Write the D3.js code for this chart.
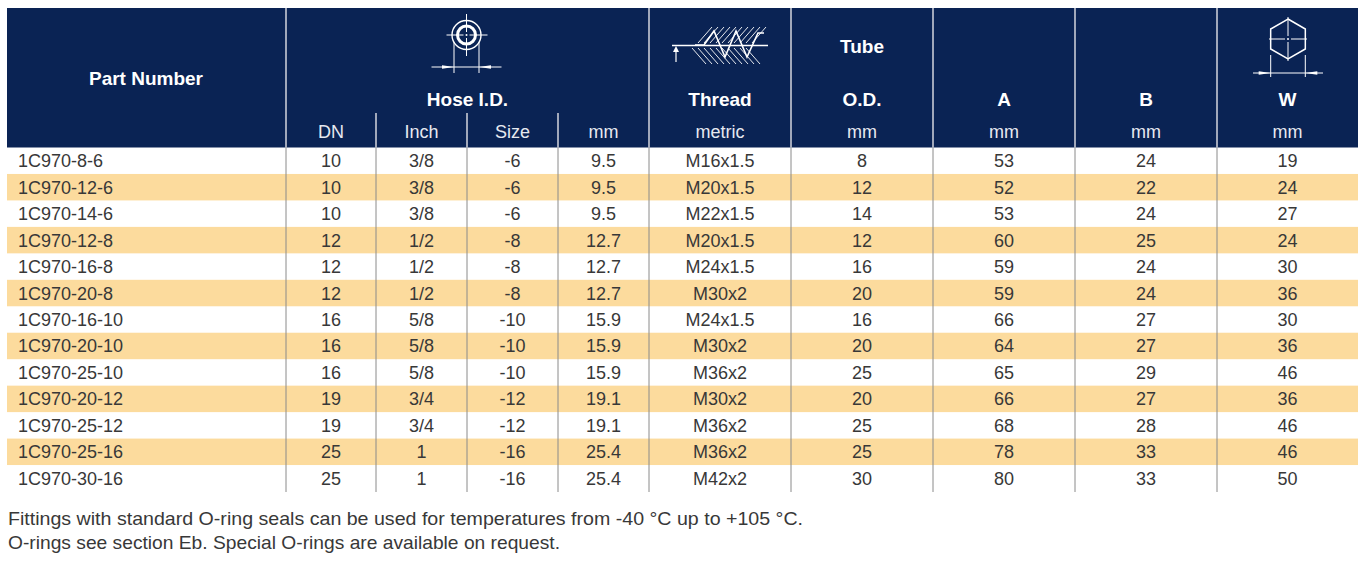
<!DOCTYPE html>
<html>
<head>
<meta charset="utf-8">
<script src="https://cdn.jsdelivr.net/npm/d3@7"></script>
<style>
  body { margin: 0; background: #ffffff; }
  svg { display: block; font-family: "Liberation Sans", Arial, sans-serif; }
</style>
</head>
<body>
<svg id="tabell" width="1369" height="563"></svg>
<script>
// Tabelldata
var partNumbers = ["1C970-8-6", "1C970-12-6", "1C970-14-6", "1C970-12-8", "1C970-16-8", "1C970-20-8",
    "1C970-16-10", "1C970-20-10", "1C970-25-10", "1C970-20-12", "1C970-25-12", "1C970-25-16", "1C970-30-16"];
var dn = [10, 10, 10, 12, 12, 12, 16, 16, 16, 19, 19, 25, 25];
var inch = ["3/8", "3/8", "3/8", "1/2", "1/2", "1/2", "5/8", "5/8", "5/8", "3/4", "3/4", "1", "1"];
var sizeDash = ["-6", "-6", "-6", "-8", "-8", "-8", "-10", "-10", "-10", "-12", "-12", "-16", "-16"];
var hoseMm = ["9.5", "9.5", "9.5", "12.7", "12.7", "12.7", "15.9", "15.9", "15.9", "19.1", "19.1", "25.4", "25.4"];
var thread = ["M16x1.5", "M20x1.5", "M22x1.5", "M20x1.5", "M24x1.5", "M30x2", "M24x1.5", "M30x2",
    "M36x2", "M30x2", "M36x2", "M36x2", "M42x2"];
var tubeOD = [8, 12, 14, 12, 16, 20, 16, 20, 25, 20, 25, 25, 30];
var dimA = [53, 52, 53, 60, 59, 59, 66, 64, 65, 66, 68, 78, 80];
var dimB = [24, 22, 24, 25, 24, 24, 27, 27, 29, 27, 28, 33, 33];
var dimW = [19, 24, 27, 24, 30, 36, 30, 36, 46, 36, 46, 46, 50];

var kolonner = ["part", "dn", "inch", "size", "mm", "thread", "tube", "a", "b", "w"];
var underTekst = ["", "DN", "Inch", "Size", "mm", "metric", "mm", "mm", "mm", "mm"];
var fotTekst = ["Fittings with standard O-ring seals can be used for temperatures from -40 °C up to +105 °C.",
    "O-rings see section Eb. Special O-rings are available on request."];

var navy = "#0a2354";
var gul = "#fcdb9d";

var svg = d3.select("#tabell");

// kolonnegrenser
var kantX = [7, 286, 376, 467, 558, 649, 791, 933, 1075, 1217, 1358];
var venstre = d3.scaleOrdinal().domain(kolonner).range(kantX.slice(0, 10));
var hoyre = d3.scaleOrdinal().domain(kolonner).range(kantX.slice(1));
function midt(k) { return (venstre(k) + hoyre(k)) / 2; }

var y = d3.scaleBand().domain(partNumbers).range([147.5, 491.5]);

// rader
var rader = partNumbers.map(function(p, i) {
    return { part: p, dn: dn[i], inch: inch[i], size: sizeDash[i], mm: hoseMm[i],
        thread: thread[i], tube: tubeOD[i], a: dimA[i], b: dimB[i], w: dimW[i], i: i };
});

svg.selectAll("rect.stripe")
    .data(rader.filter(function(d) { return d.i % 2 === 1; }))
    .enter().append("rect")
    .attr("class", "stripe")
    .attr("x", 7)
    .attr("y", function(d) { return y(d.part); })
    .attr("width", 1351)
    .attr("height", y.bandwidth())
    .attr("fill", gul);

// header
svg.append("rect")
    .attr("x", 7).attr("y", 8)
    .attr("width", 1351).attr("height", 139.5)
    .attr("fill", navy);

// skillelinjer i body
svg.selectAll("line.bodySkille")
    .data(kantX.slice(1, 10))
    .enter().append("line")
    .attr("x1", function(d) { return d; })
    .attr("x2", function(d) { return d; })
    .attr("y1", 147.5).attr("y2", 492)
    .attr("stroke", "#8a8a8a")
    .attr("stroke-width", 1);

// skillelinjer i header
var fullSkille = [286, 649, 791, 933, 1075, 1217];
svg.selectAll("line.hodeSkille")
    .data(fullSkille)
    .enter().append("line")
    .attr("x1", function(d) { return d; })
    .attr("x2", function(d) { return d; })
    .attr("y1", 8).attr("y2", 147.5)
    .attr("stroke", "#d4d6dc")
    .attr("stroke-width", 1.5);

svg.selectAll("line.hodeSkilleKort")
    .data([376, 467, 558])
    .enter().append("line")
    .attr("x1", function(d) { return d; })
    .attr("x2", function(d) { return d; })
    .attr("y1", 113).attr("y2", 147.5)
    .attr("stroke", "#d4d6dc")
    .attr("stroke-width", 1.5);

// header tekst
function hodeTekst(x, yy, t, vekt, farge, str) {
    svg.append("text")
        .attr("x", x).attr("y", yy)
        .attr("text-anchor", "middle")
        .style("font-size", str + "px")
        .style("font-weight", vekt)
        .style("fill", farge)
        .text(t);
}
hodeTekst(146, 85, "Part Number", "bold", "#ffffff", 19);
hodeTekst((286 + 649) / 2, 106, "Hose I.D.", "bold", "#ffffff", 19);
hodeTekst(midt("thread"), 106, "Thread", "bold", "#ffffff", 19);
hodeTekst(midt("tube"), 53, "Tube", "bold", "#ffffff", 19);
hodeTekst(midt("tube"), 106, "O.D.", "bold", "#ffffff", 19);
hodeTekst(midt("a"), 106, "A", "bold", "#ffffff", 19);
hodeTekst(midt("b"), 106, "B", "bold", "#ffffff", 19);
hodeTekst(midt("w"), 106, "W", "bold", "#ffffff", 19);

kolonner.forEach(function(k, i) {
    if (underTekst[i] !== "") hodeTekst(midt(k), 138, underTekst[i], "normal", "#e6e9f0", 18);
});

// celletekst
kolonner.forEach(function(k) {
    svg.selectAll("text.celle-" + k)
        .data(rader)
        .enter().append("text")
        .attr("class", "celle-" + k)
        .attr("x", k === "part" ? 18 : midt(k))
        .attr("y", function(d) { return y(d.part) + y.bandwidth() / 2 + 6.5; })
        .attr("text-anchor", k === "part" ? "start" : "middle")
        .style("font-size", "18px")
        .style("fill", "#383838")
        .text(function(d) { return d[k]; });
});

// fotnote
var fotBredde = [795, 552];
svg.selectAll("text.fot")
    .data(fotTekst)
    .enter().append("text")
    .attr("class", "fot")
    .attr("x", 8)
    .attr("y", function(d, i) { return 525 + i * 24; })
    .attr("textLength", function(d, i) { return fotBredde[i]; })
    .attr("lengthAdjust", "spacingAndGlyphs")
    .style("font-size", "18.5px")
    .style("fill", "#383838")
    .text(function(d) { return d; });

// ikoner
var hvit = "#ffffff";
function strek(g, x1, y1, x2, y2, b) {
    g.append("line").attr("x1", x1).attr("y1", y1).attr("x2", x2).attr("y2", y2)
        .attr("stroke", hvit).attr("stroke-width", b || 1);
}
function pil(g, tipX, tipY, retning) {
    // retning: 1 peker mot hoyre, -1 mot venstre
    g.append("path")
        .attr("d", "M" + tipX + "," + tipY + " L" + (tipX - retning * 12) + "," + (tipY - 1.8) +
            " L" + (tipX - retning * 12) + "," + (tipY + 1.8) + " Z")
        .attr("fill", hvit);
}

// Hose I.D. ikon
var slange = svg.append("g");
var cx = 466.5, cy = 35;
slange.append("circle").attr("cx", cx).attr("cy", cy).attr("r", 14.5)
    .attr("fill", "none").attr("stroke", hvit).attr("stroke-width", 1.4);
slange.append("circle").attr("cx", cx).attr("cy", cy).attr("r", 9)
    .attr("fill", "none").attr("stroke", hvit).attr("stroke-width", 3);
slange.append("circle").attr("cx", cx).attr("cy", cy).attr("r", 1).attr("fill", hvit);
strek(slange, cx - 20, cy, cx - 3, cy);
strek(slange, cx + 3, cy, cx + 21, cy);
strek(slange, cx, cy - 21, cx, cy - 3);
strek(slange, cx, cy + 3, cx, cy + 21);
strek(slange, cx - 12.5, cy + 7, cx - 12.5, cy + 38);
strek(slange, cx + 12.5, cy + 7, cx + 12.5, cy + 38);
strek(slange, cx - 35, cy + 32, cx + 35, cy + 32);
pil(slange, cx - 12.5, cy + 32, 1);
pil(slange, cx + 12.5, cy + 32, -1);

// Thread ikon
var gjenge = svg.append("g");
d3.range(698, 758, 6).forEach(function(x) {
    strek(gjenge, x, 43, x + 14, 27, 0.9);
});
d3.range(692, 752, 6).forEach(function(x) {
    strek(gjenge, x, 48, x + 14, 64, 0.9);
});
gjenge.append("path")
    .attr("d", "M695,45 L704,45 L714,31 L725,57 L736,31 L747,57 L758,33 L764,33")
    .attr("fill", "none").attr("stroke", hvit).attr("stroke-width", 1.6);
strek(gjenge, 672, 45.5, 768, 45.5, 1.4);
strek(gjenge, 676, 62, 676, 48, 1.2);
gjenge.append("path").attr("d", "M676,46 L673,52 L679,52 Z").attr("fill", hvit);

// W ikon (sekskant)
var sekskant = svg.append("g");
var hx = 1288, hy = 39, hr = 20;
var hjorner = d3.range(6).map(function(i) {
    var v = (-90 + i * 60) * Math.PI / 180;
    return [hx + hr * Math.cos(v), hy + hr * Math.sin(v)];
});
sekskant.append("path")
    .attr("d", d3.line()(hjorner) + "Z")
    .attr("fill", "none").attr("stroke", hvit).attr("stroke-width", 1.5);
strek(sekskant, hx - 19, hy, hx - 3, hy);
strek(sekskant, hx + 3, hy, hx + 19, hy);
strek(sekskant, hx, hy - 22, hx, hy - 3);
strek(sekskant, hx, hy + 3, hx, hy + 22);
sekskant.append("circle").attr("cx", hx).attr("cy", hy).attr("r", 1).attr("fill", hvit);
strek(sekskant, hx - 17.3, hy + 16, hx - 17.3, hy + 38);
strek(sekskant, hx + 17.3, hy + 16, hx + 17.3, hy + 38);
strek(sekskant, hx - 35, hy + 34, hx + 35, hy + 34);
pil(sekskant, hx - 17.3, hy + 34, 1);
pil(sekskant, hx + 17.3, hy + 34, -1);
</script>
</body>
</html>
